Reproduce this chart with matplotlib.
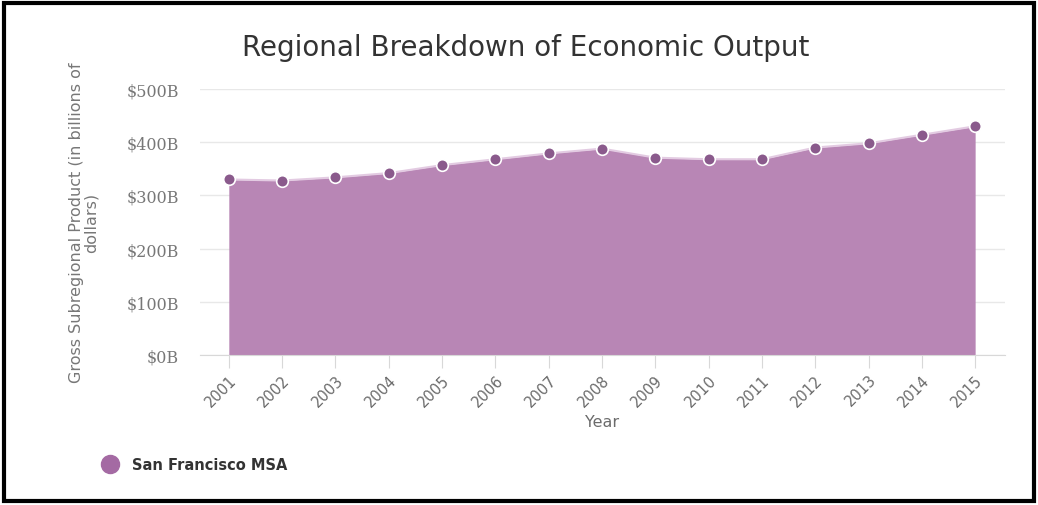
import matplotlib.pyplot as plt
from matplotlib.patches import Rectangle
import numpy as np

years = [2001, 2002, 2003, 2004, 2005, 2006, 2007, 2008,
         2009, 2010, 2011, 2012, 2013, 2014, 2015]
gsp = [330, 328, 334, 342, 357, 368, 379, 388,
       371, 368, 368, 390, 398, 414, 430]
y_ticks = [0, 100, 200, 300, 400, 500]
y_tick_labels = ['$0B', '$100B', '$200B', '$300B', '$400B', '$500B']
series_name = 'San Francisco MSA'

fill_color = '#b886b5'
marker_color = '#8a5a8c'
text_gray = '#6b6b6b'

fig = plt.figure(figsize=(10.38, 5.06), dpi=100)
ax = fig.add_axes([0.1927, 0.2964, 0.7755, 0.5257])

ax.fill_between(years, gsp, 0, color=fill_color, linewidth=0, zorder=2)
ax.plot(years, gsp, color='#e3cbe2', linewidth=1.5, zorder=3)
ax.scatter(years, gsp, s=70, color=marker_color, edgecolors='white',
           linewidths=1.2, zorder=4)

ax.set_xlim(2000.46, 2015.56)
ax.set_ylim(0, 500)

ax.set_yticks(y_ticks)
ax.set_yticklabels(y_tick_labels, family='DejaVu Serif', fontsize=11.5,
                   color='#777777')
ax.set_xticks(years)
ax.set_xticklabels([str(y) for y in years], rotation=45, ha='right',
                   rotation_mode='anchor', fontsize=10.5, color=text_gray)

ax.grid(axis='y', color='#e8e8e8', linewidth=1, zorder=0)
for s in ['top', 'right', 'left']:
    ax.spines[s].set_visible(False)
ax.spines['bottom'].set_color('#d8d8d8')
ax.tick_params(axis='y', length=0, pad=15)
ax.tick_params(axis='x', length=9, color='#d8d8d8', pad=3)

ax.set_xlabel('Year', fontsize=11.5, color=text_gray, labelpad=4)
ax.set_ylabel('Gross Subregional Product (in billions of\ndollars)',
              fontsize=11.5, color='#777777', labelpad=20, linespacing=1.0)

fig.text(0.506, 0.905, 'Regional Breakdown of Economic Output',
         ha='center', va='center', fontsize=20, color='#333333')

# legend
fig.add_artist(plt.Line2D([0.106], [0.081], marker='o', markersize=13,
                          color='#a46aa3', linestyle='none',
                          transform=fig.transFigure))
fig.text(0.127, 0.081, series_name, ha='left', va='center', fontsize=10.5,
         fontweight='bold', color='#333333')

# outer black frame
fig.add_artist(Rectangle((0.004, 0.008), 0.992, 0.984,
                         transform=fig.transFigure, fill=False,
                         edgecolor='black', linewidth=3))

fig.savefig('out.png', dpi=100)
